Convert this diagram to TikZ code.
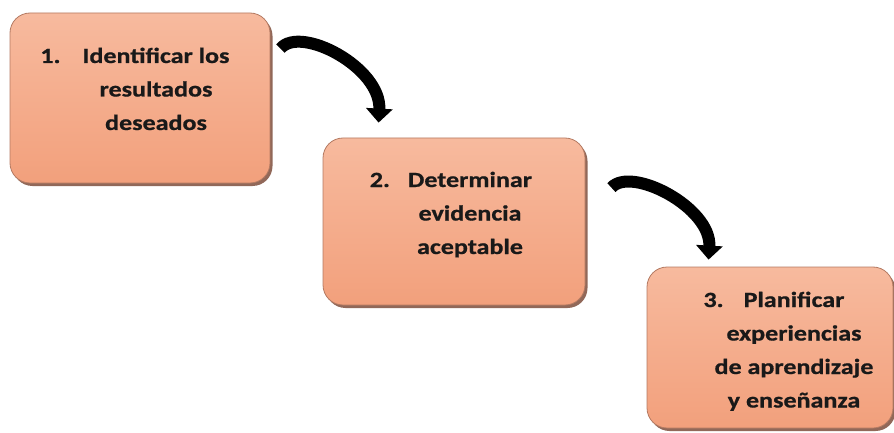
\documentclass[tikz,border=0pt]{standalone}
\usepackage{fontspec}
\setmainfont[FakeStretch=1.2, BoldFeatures={FakeBold=0.8}]{Carlito}
\usetikzlibrary{arrows.meta,shadows,calc}
\definecolor{boxtop}{HTML}{F7BA9E}
\definecolor{boxbot}{HTML}{F2A07C}
\definecolor{boxedge}{HTML}{B47A62}
\definecolor{boxshade}{HTML}{7E4E3C}
\tikzset{
  stepbox/.style={draw=boxedge, line width=0.8pt, rounded corners=20pt,
    top color=boxtop, bottom color=boxbot, inner sep=0pt,
    drop shadow={shadow xshift=2.5pt, shadow yshift=-3pt, fill=boxshade, opacity=0.85}},
  steptext/.style={align=center, anchor=base, inner sep=0pt,
    font=\bfseries\fontsize{21.7}{33.5}\selectfont, text=black!90},
  bigarrow/.style={line width=12pt, black, -{Triangle[width=26pt,length=14pt]}}
}
\begin{document}
\begin{tikzpicture}[x=1pt,y=-1pt]
\useasboundingbox (0,0) rectangle (894,433);
\node[stepbox, minimum width=260pt, minimum height=170pt] (b1) at (140,98) {};
\node[stepbox, minimum width=262pt, minimum height=167pt] (b2) at (454,221.5) {};
\node[stepbox, minimum width=246pt, minimum height=161pt] (b3) at (770,347.5) {};
\node[steptext] (t1) at (156,130) {\llap{1.\hspace{22pt}}Identificar los\\resultados\\deseados};
\node[steptext] (t2) at (470,254) {\llap{2.\hspace{18pt}}Determinar\\evidencia\\aceptable};
\node[steptext] (t3) at (794,407.5) {\llap{3.\hspace{20pt}}Planificar\\experiencias\\de aprendizaje\\y enseñanza};
\draw[bigarrow] ([xshift=10pt,yshift=-36pt]b1.north east) .. controls +(20,-24) and +(3,-55) .. ([xshift=56pt,yshift=15pt]b2.north west);
\draw[bigarrow] ([xshift=26pt,yshift=-50pt]b2.north east) .. controls +(20,-22) and +(3,-52) .. ([xshift=62pt,yshift=7pt]b3.north west);
\end{tikzpicture}
\end{document}
